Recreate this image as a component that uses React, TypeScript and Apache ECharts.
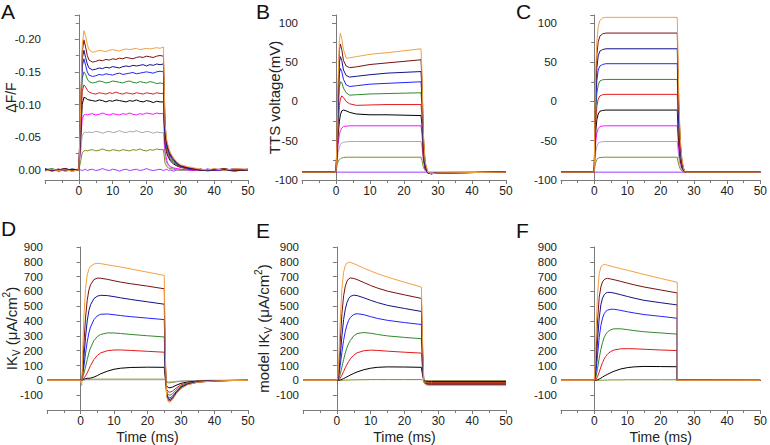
import React, { useEffect, useRef } from "react";
import * as echarts from "echarts";

// ---------- Panel A: ΔF/F (time in ms) ----------
const tA = [-10, -8, -6, -4, -2, 0, 0.5, 1, 1.5, 2, 2.5, 3, 4, 5, 6, 7, 8, 9, 10, 11, 12, 13, 14, 15, 16, 17, 18, 19, 20, 21, 22, 23, 24, 25, 25.5, 26, 26.5, 27, 28, 29, 30, 32, 34, 36, 38, 40, 43, 46, 50];
const aOrange = [0.002, -0.001, 0.001, 0.0, 0.002, 0.0, -0.09, -0.19, -0.213, -0.205, -0.192, -0.184, -0.18, -0.181, -0.183, -0.182, -0.181, -0.183, -0.184, -0.183, -0.182, -0.184, -0.185, -0.184, -0.185, -0.186, -0.184, -0.185, -0.186, -0.185, -0.186, -0.187, -0.186, -0.188, -0.07, -0.045, -0.035, -0.027, -0.018, -0.012, -0.008, -0.005, -0.003, -0.001, 0.0, -0.002, 0.001, -0.002, -0.001];
const aMaroon = [-0.001, 0.002, 0.0, -0.002, 0.001, 0.0, -0.085, -0.18, -0.199, -0.188, -0.175, -0.168, -0.165, -0.166, -0.168, -0.167, -0.169, -0.168, -0.17, -0.169, -0.171, -0.17, -0.172, -0.171, -0.17, -0.172, -0.173, -0.172, -0.174, -0.173, -0.172, -0.174, -0.175, -0.174, -0.065, -0.042, -0.032, -0.025, -0.017, -0.011, -0.007, -0.004, -0.002, 0.001, -0.001, 0.0, -0.002, 0.001, 0.0];
const aNavy = [0.001, -0.001, 0.002, 0.0, -0.001, 0.0, -0.08, -0.17, -0.183, -0.172, -0.162, -0.156, -0.153, -0.154, -0.156, -0.155, -0.157, -0.156, -0.158, -0.157, -0.156, -0.158, -0.159, -0.158, -0.16, -0.159, -0.16, -0.161, -0.159, -0.161, -0.16, -0.162, -0.161, -0.162, -0.06, -0.039, -0.03, -0.023, -0.016, -0.01, -0.006, -0.003, -0.002, 0.0, 0.001, -0.001, 0.0, 0.002, -0.001];
const aBlue = [-0.002, 0.001, 0.0, 0.001, -0.001, 0.0, -0.075, -0.158, -0.17, -0.16, -0.15, -0.145, -0.143, -0.144, -0.146, -0.145, -0.147, -0.146, -0.145, -0.147, -0.148, -0.146, -0.147, -0.148, -0.149, -0.147, -0.148, -0.149, -0.15, -0.149, -0.148, -0.15, -0.151, -0.15, -0.055, -0.036, -0.028, -0.021, -0.014, -0.009, -0.006, -0.003, -0.001, 0.001, -0.001, 0.0, 0.001, -0.002, 0.0];
const aGreen = [0.0, -0.002, 0.001, -0.001, 0.002, 0.0, -0.065, -0.14, -0.15, -0.146, -0.139, -0.135, -0.133, -0.134, -0.136, -0.135, -0.133, -0.134, -0.136, -0.135, -0.134, -0.133, -0.135, -0.136, -0.134, -0.133, -0.135, -0.134, -0.133, -0.135, -0.134, -0.132, -0.133, -0.132, -0.05, -0.032, -0.025, -0.019, -0.013, -0.008, -0.005, -0.003, -0.001, 0.0, 0.001, -0.001, 0.0, 0.001, -0.001];
const aRed = [0.001, 0.0, -0.001, 0.002, 0.0, -0.001, -0.055, -0.12, -0.13, -0.127, -0.122, -0.119, -0.117, -0.116, -0.118, -0.117, -0.116, -0.118, -0.117, -0.119, -0.117, -0.116, -0.118, -0.117, -0.116, -0.118, -0.117, -0.116, -0.118, -0.117, -0.116, -0.118, -0.117, -0.117, -0.044, -0.028, -0.022, -0.017, -0.011, -0.007, -0.004, -0.002, -0.001, 0.001, 0.0, -0.001, 0.001, 0.0, -0.001];
const aBlack = [-0.001, 0.001, 0.0, -0.002, 0.001, 0.0, -0.045, -0.1, -0.111, -0.11, -0.108, -0.107, -0.106, -0.105, -0.107, -0.106, -0.104, -0.106, -0.105, -0.107, -0.106, -0.105, -0.104, -0.106, -0.105, -0.107, -0.105, -0.104, -0.106, -0.105, -0.103, -0.105, -0.104, -0.104, -0.04, -0.025, -0.019, -0.014, -0.009, -0.006, -0.004, -0.002, 0.0, -0.001, 0.001, 0.0, -0.001, 0.001, 0.0];
const aMagenta = [0.0, 0.001, -0.001, 0.0, 0.001, 0.0, -0.04, -0.078, -0.084, -0.085, -0.084, -0.085, -0.086, -0.084, -0.085, -0.087, -0.085, -0.084, -0.086, -0.085, -0.084, -0.086, -0.085, -0.087, -0.085, -0.084, -0.086, -0.085, -0.087, -0.086, -0.085, -0.087, -0.086, -0.086, -0.028, -0.014, -0.008, -0.005, -0.003, -0.002, -0.001, 0.0, 0.001, -0.001, 0.0, 0.001, 0.0, -0.001, 0.0];
const aGray = [0.001, -0.001, 0.0, 0.001, -0.001, 0.0, -0.025, -0.052, -0.057, -0.058, -0.057, -0.058, -0.057, -0.059, -0.058, -0.056, -0.058, -0.059, -0.057, -0.058, -0.06, -0.058, -0.057, -0.059, -0.058, -0.06, -0.058, -0.057, -0.059, -0.058, -0.056, -0.058, -0.057, -0.057, -0.02, -0.01, -0.006, -0.004, -0.002, -0.001, 0.0, 0.001, -0.001, 0.0, 0.001, 0.0, -0.001, 0.0, 0.001];
const aOlive = [0.0, -0.001, 0.001, 0.0, -0.001, 0.0, -0.012, -0.026, -0.029, -0.03, -0.029, -0.03, -0.031, -0.029, -0.03, -0.032, -0.03, -0.029, -0.031, -0.03, -0.029, -0.031, -0.03, -0.029, -0.031, -0.03, -0.032, -0.03, -0.029, -0.031, -0.03, -0.032, -0.031, -0.031, -0.01, -0.005, -0.003, -0.002, -0.001, 0.0, 0.001, 0.0, -0.001, 0.0, 0.001, 0.0, -0.001, 0.0, 0.0];
const aViolet = [0.0, 0.001, -0.001, 0.001, 0.0, -0.001, 0.0, 0.001, 0.0, -0.001, 0.001, 0.0, -0.001, 0.001, 0.0, -0.002, 0.0, 0.001, -0.001, 0.0, 0.002, 0.0, -0.001, 0.001, 0.0, -0.001, 0.001, 0.0, -0.002, 0.0, 0.001, 0.0, -0.001, 0.001, 0.0, -0.001, 0.001, 0.0, 0.002, 0.0, -0.001, 0.001, 0.0, -0.001, 0.002, 0.0, 0.001, -0.001, 0.0];

// ---------- Panel B: TTS voltage (mV) ----------
const tB = [-10, 0, 0.3, 0.6, 1, 1.3, 1.7, 2.2, 3, 4, 6, 10, 15, 20, 25, 25.3, 25.7, 26.2, 27, 28, 30, 40, 50];
const bOrange = [-90, -90, -45, 25, 78, 87, 80, 66, 55, 55.5, 57, 60, 62, 64.5, 67, 35, -40, -76, -90, -92, -91, -90.5, -90];
const bMaroon = [-90, -90, -50, 10, 65, 73, 66, 52, 45, 43, 44, 47, 49, 51, 53, 25, -45, -78, -91, -92, -91, -90.5, -90];
const bNavy = [-90, -90, -55, 0, 50, 57, 52, 40, 33, 31, 32, 34, 36, 37, 38, 15, -50, -80, -91, -92, -91, -90.5, -90];
const bBlue = [-90, -90, -58, -10, 36, 42, 38, 28, 21, 19, 20, 22, 23, 24, 25, 5, -55, -82, -91, -92, -91, -90.5, -90];
const bGreen = [-90, -90, -62, -20, 18, 25, 24, 17, 11, 8, 8.5, 9.5, 10, 10.5, 11, -5, -60, -83, -91, -92, -91, -90.5, -90];
const bRed = [-90, -90, -66, -35, -5, 3, 7, 5, 0, -3, -5, -4.5, -4, -4, -4, -20, -65, -84, -91, -92, -91, -90.5, -90];
const bBlack = [-90, -90, -70, -45, -25, -17, -12, -11, -12, -14, -16, -17, -17, -17.5, -18, -30, -70, -85, -91, -92, -91, -90.5, -90];
const bMagenta = [-90, -90, -72, -55, -42, -37, -34, -32, -31.5, -31, -31, -31, -31, -31, -31, -42, -72, -86, -91, -91.5, -91, -90.5, -90];
const bGray = [-90, -90, -76, -65, -58, -55, -53, -52, -51.5, -51, -51, -51, -51, -51, -51, -58, -77, -87, -90.5, -91, -90.5, -90, -90];
const bOlive = [-90, -90, -81, -77, -74, -73, -72, -71.5, -71, -71, -71, -71, -71, -71, -71, -75, -84, -88, -90.5, -91, -90.5, -90, -90];
const tFlat = [-10, 50];
const flatVoltage = [-90, -90];

// ---------- Panel C: command voltage (mV) ----------
const tC = [-10, 0, 0.2, 0.5, 0.8, 1.2, 1.7, 2.5, 3.5, 25, 25.2, 25.5, 25.9, 26.4, 27, 27.5, 50];
const cOrange = [-90, -90, -21, 44, 77, 95, 103, 106, 107, 107, 58, -1, -47, -74, -87, -90, -90];
const cMaroon = [-90, -90, -28, 30, 60, 76, 83, 86, 87, 87, 43, -10, -51, -76, -87, -90, -90];
const cNavy = [-90, -90, -35, 17, 43, 58, 64, 66, 67, 67, 28, -19, -55, -77, -88, -90, -90];
const cBlue = [-90, -90, -42, 4, 27, 40, 45, 47, 48, 48, 14, -28, -60, -79, -88, -90, -90];
const cGreen = [-90, -90, -49, -10, 10, 21, 26, 27.5, 28, 28, -1, -37, -64, -80, -88, -90, -90];
const cRed = [-90, -90, -55, -23, -6, 3, 7, 8.5, 9, 9, -16, -45, -68, -82, -88.5, -90, -90];
const cBlack = [-90, -90, -62, -36, -23, -16, -12.5, -11.5, -11, -11, -31, -54, -73, -84, -89, -90, -90];
const cMagenta = [-90, -90, -69, -50, -40, -34.5, -32, -31.3, -31, -31, -46, -63.5, -77, -85, -89, -90, -90];
const cGray = [-90, -90, -76, -63.5, -57, -53, -52, -51.2, -51, -51, -61, -72.5, -81.5, -87, -89.5, -90, -90];
const cOlive = [-90, -90, -83, -77, -74, -72, -71.4, -71.1, -71, -71, -76, -81.5, -86, -88.5, -90, -90, -90];

// ---------- Panel D: measured IKv ----------
const tD = [-10, 0, 0.4, 0.6, 0.8, 1, 1.5, 2, 2.5, 3, 4, 5, 6, 8, 10, 12, 15, 20, 25, 25.3, 25.7, 26.2, 26.7, 27.5, 28.5, 30, 32, 35, 40, 45, 50];
const dOrange = [0, 0, -35, 150, 300, 420, 620, 710, 750, 770, 785, 790, 788, 780, 772, 765, 752, 730, 708, 200, -110, -145, -148, -130, -95, -55, -30, -13, -4, -1, 0];
const dMaroon = [0, 0, 0, 60, 150, 240, 420, 540, 610, 645, 680, 690, 689, 682, 672, 663, 652, 636, 618, 150, -100, -135, -140, -124, -90, -52, -28, -12, -4, -1, 0];
const dNavy = [0, 0, 0, 40, 90, 150, 290, 400, 470, 510, 552, 568, 574, 572, 565, 557, 546, 530, 514, 120, -95, -126, -130, -115, -84, -48, -26, -11, -3, -1, 0];
const dBlue = [0, 0, 0, 30, 60, 90, 180, 260, 320, 360, 410, 435, 446, 448, 443, 437, 430, 420, 410, 90, -88, -115, -120, -106, -78, -44, -24, -10, -3, -1, 0];
const dGreen = [0, 0, 0, 15, 30, 45, 90, 140, 185, 220, 268, 295, 310, 320, 320, 316, 310, 301, 293, 60, -75, -97, -100, -90, -66, -38, -20, -9, -3, -1, 0];
const dRed = [0, 0, 0, 5, 10, 15, 30, 50, 75, 100, 140, 168, 185, 200, 205, 205, 202, 196, 190, 40, -60, -78, -80, -72, -53, -30, -16, -7, -2, -1, 0];
const dBlack = [0, 0, 0, 3, 6, 8, 12, 14, 14, 15, 22, 32, 44, 62, 75, 82, 87, 89, 88, 15, -38, -48, -50, -45, -34, -20, -11, -5, -2, 0, 0];
const dGray = [0, 0, 0, 1, 2, 3, 4, 4, 4, 4, 4, 4, 4, 4, 4, 4, 4, 4, 4, 0, -8, -10, -10, -9, -7, -4, -2, -1, 0, 0, 0];
const dOlive = [0, 0, 0, 1, 2, 3, 5, 6, 7, 7, 8, 8, 8, 8, 8, 8, 8, 8, 8, 2, -12, -16, -16, -14, -10, -6, -3, -1, 0, 0, 0];

// ---------- Panel E: model IKv (TTS voltage) ----------
const tE = [-10, 0, 0.3, 0.6, 1, 1.5, 2, 2.5, 3, 3.5, 4, 5, 6, 8, 10, 12, 15, 20, 25, 25.3, 25.7, 26.2, 27, 28, 50];
const eOrange = [0, 0, 20, 150, 400, 620, 730, 775, 792, 797, 796, 788, 778, 757, 738, 720, 697, 662, 630, 300, -10, -28, -33, -33, -33];
const eMaroon = [0, 0, 10, 90, 260, 450, 570, 635, 670, 685, 691, 688, 680, 660, 640, 623, 602, 577, 553, 250, -10, -26, -30, -30, -30];
const eNavy = [0, 0, 5, 50, 160, 300, 410, 480, 525, 552, 567, 575, 572, 557, 540, 525, 506, 485, 465, 200, -10, -24, -27, -27, -27];
const eBlue = [0, 0, 3, 30, 100, 190, 270, 330, 375, 405, 425, 445, 450, 443, 430, 418, 405, 390, 377, 160, -8, -21, -24, -24, -24];
const eGreen = [0, 0, 1, 12, 40, 90, 140, 185, 220, 250, 270, 300, 316, 323, 318, 310, 300, 290, 281, 120, -6, -17, -20, -20, -20];
const eRed = [0, 0, 0, 4, 15, 35, 60, 85, 108, 128, 145, 170, 186, 200, 204, 202, 197, 190, 184, 80, -4, -12, -14, -14, -14];
const eBlack = [0, 0, 0, 1, 3, 7, 12, 18, 24, 30, 36, 47, 57, 72, 82, 88, 91, 90, 88, 40, -2, -6, -7, -7, -7];
const eOlive = [0, 0, 0, 0, 0, 1, 1, 2, 2, 2, 3, 3, 4, 4, 5, 5, 5, 5, 5, 2, -1, -2, -3, -3, -3];

// ---------- Panel F: model IKv (command voltage) ----------
const tF = [-10, 0, 0.3, 0.6, 1, 1.5, 2, 2.5, 3, 3.5, 4, 5, 6, 8, 10, 12, 15, 20, 25, 25, 50];
const fOrange = [0, 0, 120, 350, 580, 720, 765, 778, 782, 780, 777, 771, 765, 754, 743, 732, 715, 688, 662, 0, 0];
const fMaroon = [0, 0, 60, 200, 400, 560, 630, 665, 680, 686, 688, 684, 679, 668, 656, 645, 630, 610, 590, 0, 0];
const fNavy = [0, 0, 35, 120, 270, 420, 510, 555, 578, 589, 594, 593, 589, 578, 566, 555, 540, 524, 509, 0, 0];
const fBlue = [0, 0, 20, 70, 170, 290, 370, 420, 450, 466, 474, 480, 480, 472, 463, 455, 444, 432, 419, 0, 0];
const fGreen = [0, 0, 8, 30, 80, 150, 210, 255, 290, 312, 327, 342, 348, 348, 342, 336, 328, 320, 312, 0, 0];
const fRed = [0, 0, 2, 8, 25, 55, 90, 120, 145, 163, 177, 195, 205, 213, 214, 213, 210, 205, 201, 0, 0];
const fBlack = [0, 0, 0, 1, 4, 9, 15, 22, 29, 35, 41, 52, 62, 77, 86, 91, 94, 93, 92, 0, 0];
const fOlive = [0, 0, 0, 0, 0, 1, 1, 1, 2, 2, 2, 3, 3, 3, 4, 4, 4, 4, 4, 0, 0];

const xTicks = { min: -10, max: 50, interval: 10 };
const panelLetters = ["A", "B", "C", "D", "E", "F"];

const C = {
  violet: "#9a3cff",
  olive: "#7d8c22",
  gray: "#a9a9a9",
  magenta: "#ff10ff",
  black: "#000000",
  red: "#e5191c",
  green: "#2f8a2f",
  blue: "#2323ff",
  navy: "#12128c",
  maroon: "#7a1010",
  orange: "#f3a041",
};

const FONT = "Liberation Sans, Arial, sans-serif";
const AXIS_COLOR = "#7a7a7a";
const LABEL_COLOR = "#222";

const grids = [
  { left: 45, top: 15, width: 203, height: 165 },
  { left: 302, top: 15, width: 204, height: 165 },
  { left: 561, top: 15, width: 203, height: 165 },
  { left: 45, top: 247, width: 203, height: 165 },
  { left: 303, top: 247, width: 203, height: 165 },
  { left: 561, top: 247, width: 203, height: 165 },
];

function line(idx: number, t: number[], v: number[], color: string) {
  return {
    type: "line",
    xAxisIndex: idx,
    yAxisIndex: idx,
    data: t.map((x, i) => [x, v[i]]),
    showSymbol: false,
    symbol: "none",
    silent: true,
    lineStyle: { color, width: 1 },
    itemStyle: { color },
  };
}

function xAxis(i: number, withName: boolean) {
  return {
    type: "value",
    gridIndex: i,
    ...xTicks,
    axisLine: { onZero: false, lineStyle: { color: AXIS_COLOR } },
    axisTick: { length: 4, lineStyle: { color: AXIS_COLOR } },
    minorTick: { show: true, splitNumber: 2, length: 3, lineStyle: { color: AXIS_COLOR } },
    splitLine: { show: false },
    axisLabel: { showMinLabel: false, color: LABEL_COLOR, fontFamily: FONT, fontSize: 12, margin: 5 },
    name: withName ? "Time (ms)" : "",
    nameLocation: "middle",
    nameGap: 20,
    nameMoveOverlap: false,
    nameTextStyle: { color: LABEL_COLOR, fontFamily: FONT, fontSize: 14 },
  };
}

const yCommon = {
  type: "value",
  axisLine: { show: true, lineStyle: { color: AXIS_COLOR } },
  axisTick: { show: true, length: 4, lineStyle: { color: AXIS_COLOR } },
  splitLine: { show: false },
  nameLocation: "middle",
  nameRotate: 90,
  nameMoveOverlap: false,
};

const labelStyle = { color: LABEL_COLOR, fontFamily: FONT, fontSize: 11.5, margin: 4 };
const nameStyle = {
  color: LABEL_COLOR,
  fontFamily: FONT,
  fontSize: 15,
  lineHeight: 20,
  rich: {
    sub: { fontFamily: FONT, fontSize: 10, color: LABEL_COLOR, verticalAlign: "bottom", lineHeight: 12 },
    sup: { fontFamily: FONT, fontSize: 10, color: LABEL_COLOR, verticalAlign: "top", lineHeight: 12 },
  },
};

export default function App() {
  const ref = useRef<HTMLDivElement>(null);
  useEffect(() => {
    if (!ref.current) return;
    const chart = echarts.init(ref.current, undefined, { renderer: "svg" });
    const series = [
      // A
      line(0, tA, aViolet, C.violet),
      line(0, tA, aOlive, C.olive),
      line(0, tA, aGray, C.gray),
      line(0, tA, aMagenta, C.magenta),
      line(0, tA, aBlack, C.black),
      line(0, tA, aRed, C.red),
      line(0, tA, aGreen, C.green),
      line(0, tA, aBlue, C.blue),
      line(0, tA, aNavy, C.navy),
      line(0, tA, aMaroon, C.maroon),
      line(0, tA, aOrange, C.orange),
      // B
      line(1, tFlat, flatVoltage, C.violet),
      line(1, tB, bOlive, C.olive),
      line(1, tB, bGray, C.gray),
      line(1, tB, bMagenta, C.magenta),
      line(1, tB, bBlack, C.black),
      line(1, tB, bRed, C.red),
      line(1, tB, bGreen, C.green),
      line(1, tB, bBlue, C.blue),
      line(1, tB, bNavy, C.navy),
      line(1, tB, bMaroon, C.maroon),
      line(1, tB, bOrange, C.orange),
      // C
      line(2, tFlat, flatVoltage, C.violet),
      line(2, tC, cOlive, C.olive),
      line(2, tC, cGray, C.gray),
      line(2, tC, cMagenta, C.magenta),
      line(2, tC, cBlack, C.black),
      line(2, tC, cRed, C.red),
      line(2, tC, cGreen, C.green),
      line(2, tC, cBlue, C.blue),
      line(2, tC, cNavy, C.navy),
      line(2, tC, cMaroon, C.maroon),
      line(2, tC, cOrange, C.orange),
      // D
      line(3, tD, dOlive, C.olive),
      line(3, tD, dGray, C.gray),
      line(3, tD, dBlack, C.black),
      line(3, tD, dRed, C.red),
      line(3, tD, dGreen, C.green),
      line(3, tD, dBlue, C.blue),
      line(3, tD, dNavy, C.navy),
      line(3, tD, dMaroon, C.maroon),
      line(3, tD, dOrange, C.orange),
      // E
      line(4, tE, eOlive, C.olive),
      line(4, tE, eBlack, C.black),
      line(4, tE, eRed, C.red),
      line(4, tE, eGreen, C.green),
      line(4, tE, eBlue, C.blue),
      line(4, tE, eNavy, C.navy),
      line(4, tE, eMaroon, C.maroon),
      line(4, tE, eOrange, C.orange),
      // F
      line(5, tF, fOlive, C.olive),
      line(5, tF, fBlack, C.black),
      line(5, tF, fRed, C.red),
      line(5, tF, fGreen, C.green),
      line(5, tF, fBlue, C.blue),
      line(5, tF, fNavy, C.navy),
      line(5, tF, fMaroon, C.maroon),
      line(5, tF, fOrange, C.orange),
    ];

    const currentAxis = (i: number, name: string, gap: number) => ({
      ...yCommon,
      gridIndex: i,
      min: -200,
      max: 900,
      interval: 100,
      axisLabel: { ...labelStyle, showMinLabel: false },
      name,
      nameGap: gap,
      nameTextStyle: nameStyle,
    });

    const voltageAxis = (i: number, name: string, gap: number) => ({
      ...yCommon,
      gridIndex: i,
      min: -100,
      max: 110,
      interval: 50,
      minorTick: { show: true, splitNumber: 2, length: 3, lineStyle: { color: AXIS_COLOR } },
      axisLabel: { ...labelStyle, showMaxLabel: false },
      name,
      nameGap: gap,
      nameTextStyle: nameStyle,
    });

    const letterPos = [
      [1, 1],
      [256, 1],
      [516, 1],
      [1, 218],
      [256, 220],
      [516, 220],
    ];

    chart.setOption({
      animation: false,
      grid: grids.map((g) => ({ ...g, containLabel: false })),
      xAxis: [0, 1, 2, 3, 4, 5].map((i) => xAxis(i, i >= 3)),
      yAxis: [
        {
          ...yCommon,
          gridIndex: 0,
          inverse: true,
          min: -0.237,
          max: 0.0155,
          splitNumber: 5,
          minorTick: { show: true, splitNumber: 2, length: 3, lineStyle: { color: AXIS_COLOR } },
          axisLabel: {
            ...labelStyle,
            showMinLabel: false,
            showMaxLabel: false,
            formatter: (v: number) => v.toFixed(2),
          },
          name: "ΔF/F",
          nameGap: 24,
          nameTextStyle: { ...nameStyle, fontSize: 14 },
        },
        voltageAxis(1, "TTS voltage(mV)", 18),
        voltageAxis(2, "", 18),
        currentAxis(3, "IK{sub|V} (μA/cm{sup|2})", 26),
        currentAxis(4, "model IK{sub|V} (μA/cm{sup|2})", 30),
        currentAxis(5, "", 26),
      ],
      series,
      graphic: panelLetters.map((ch, i) => ({
        type: "text",
        left: letterPos[i][0],
        top: letterPos[i][1],
        style: { text: ch, fontFamily: FONT, fontSize: 21, fill: "#111" },
      })),
    });
    return () => chart.dispose();
  }, []);
  return (
    <div
      ref={ref}
      style={{ position: "fixed", left: 0, top: 0, width: 770, height: 445, background: "#fff" }}
    />
  );
}
